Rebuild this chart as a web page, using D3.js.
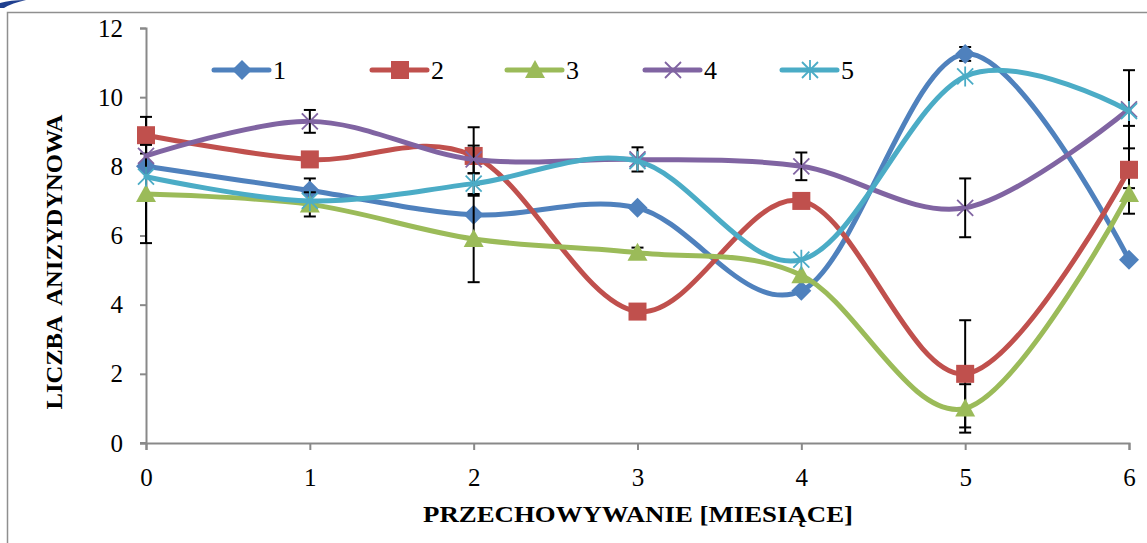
<!DOCTYPE html>
<html>
<head>
<meta charset="utf-8">
<script src="https://cdn.jsdelivr.net/npm/d3@7"></script>
<style>
  body { margin: 0; background: #fff; }
  svg { display: block; }
  text { font-family: "Liberation Serif", "Times New Roman", serif; fill: #000; }
</style>
</head>
<body>
<svg id="chart" width="1147" height="543"></svg>
<script>
// months of storage
const months = [0, 1, 2, 3, 4, 5, 6];
const seriesNames = ['1', '2', '3', '4', '5'];
const seriesColors = ['#4F81BD', '#C0504D', '#9BBB59', '#8064A2', '#4BACC6'];
const seriesMarkers = ['diamond', 'square', 'triangle', 'cross', 'star'];

const values1 = [8.0, 7.3, 6.6, 6.8, 4.4, 11.25, 5.3];
const values2 = [8.9, 8.2, 8.3, 3.8, 7.0, 2.0, 7.9];
const values3 = [7.2, 6.9, 5.9, 5.5, 4.85, 1.0, 7.2];
const values4 = [8.3, 9.3, 8.2, 8.2, 8.0, 6.8, 9.65];
const values5 = [7.7, 7.0, 7.5, 8.15, 5.3, 10.6, 9.6];

// error bar half widths (0 = none visible)
const errors1 = [0, 0.35, 0, 0, 0, 0.2, 0];
const errors2 = [0.53, 0, 0.83, 0, 0, 1.55, 1.27];
const errors3 = [1.42, 0.35, 1.25, 0.15, 0, 0.7, 0.17];
const errors4 = [0, 0.33, 0.4, 0.35, 0.4, 0.85, 1.13];
const errors5 = [0, 0, 0.3, 0, 0, 0, 0];

const yTicks = [0, 2, 4, 6, 8, 10, 12];
const xTitle = 'PRZECHOWYWANIE [MIESIĄCE]';
const yTitle = 'LICZBA  ANIZYDYNOWA';

const allValues = [values1, values2, values3, values4, values5];
const allErrors = [errors1, errors2, errors3, errors4, errors5];

const svg = d3.select('#chart');
const x = d3.scaleLinear().domain([0, 6]).range([146, 1129]);
const y = d3.scaleLinear().domain([0, 12]).range([443, 28]);
const axisColor = '#898989';
const serif = '"Liberation Serif", "Times New Roman", serif';

// outer frame (continues past right/bottom edge)
svg.append('path')
    .attr('d', 'M7.5,543 V12.5 H1147')
    .attr('fill', 'none')
    .attr('stroke', '#8f8f8f')
    .attr('stroke-width', 1.5);
// little blue corner remnant
svg.append('path')
    .attr('d', 'M0,8 L0,3 Q10,0 26,0 Q12,3 4,8 Z')
    .attr('fill', '#1f3f8f');

// axes
const yAxis = svg.append('g')
    .attr('transform', `translate(${x(0)},0)`)
    .call(d3.axisLeft(y).tickValues(yTicks).tickSize(6).tickPadding(17).tickFormat(d3.format('d')));
const xAxis = svg.append('g')
    .attr('transform', `translate(0,${y(0)})`)
    .call(d3.axisBottom(x).tickValues(months).tickSize(7).tickPadding(18).tickFormat(d3.format('d')));
[xAxis, yAxis].forEach(ax => {
    ax.attr('font-family', serif).attr('font-size', 25);
    ax.select('.domain').attr('stroke', axisColor).attr('stroke-width', 2);
    ax.selectAll('.tick line').attr('stroke', axisColor).attr('stroke-width', 2);
    ax.selectAll('.tick text')
        .style('font-family', serif)
        .style('font-size', '25px')
        .attr('fill', '#000');
});
// Excel style: y axis extends a bit left at the bottom
svg.append('line')
    .attr('x1', x(0) - 6).attr('x2', x(0))
    .attr('y1', y(0)).attr('y2', y(0))
    .attr('stroke', axisColor).attr('stroke-width', 2);

// titles
svg.append('text')
    .attr('x', 638).attr('y', 522)
    .attr('text-anchor', 'middle')
    .attr('textLength', 430)
    .attr('lengthAdjust', 'spacingAndGlyphs')
    .style('font-size', '23px')
    .style('font-weight', 'bold')
    .text(xTitle);
svg.append('text')
    .attr('transform', 'translate(62,262) rotate(-90)')
    .attr('text-anchor', 'middle')
    .attr('textLength', 295)
    .attr('lengthAdjust', 'spacingAndGlyphs')
    .style('font-size', '24px')
    .style('font-weight', 'bold')
    .style('white-space', 'pre')
    .text(yTitle);

// markers
function drawMarker(g, type, color, cx, cy) {
    if (type === 'diamond') {
        g.append('path').attr('d', `M${cx},${cy - 10} L${cx + 10},${cy} L${cx},${cy + 10} L${cx - 10},${cy} Z`)
            .attr('fill', color);
    } else if (type === 'square') {
        g.append('rect').attr('x', cx - 9).attr('y', cy - 9).attr('width', 18).attr('height', 18)
            .attr('fill', color);
    } else if (type === 'triangle') {
        g.append('path').attr('d', `M${cx},${cy - 10} L${cx + 10},${cy + 8} L${cx - 10},${cy + 8} Z`)
            .attr('fill', color);
    } else if (type === 'cross') {
        g.append('path').attr('d', `M${cx - 8},${cy - 8} L${cx + 8},${cy + 8} M${cx - 8},${cy + 8} L${cx + 8},${cy - 8}`)
            .attr('stroke', color).attr('stroke-width', 1.8);
    } else if (type === 'star') {
        g.append('path').attr('d', `M${cx - 8},${cy - 8} L${cx + 8},${cy + 8} M${cx - 8},${cy + 8} L${cx + 8},${cy - 8} M${cx},${cy - 10} L${cx},${cy + 10}`)
            .attr('stroke', color).attr('stroke-width', 1.8);
    }
}

const line = d3.line()
    .x((d, i) => x(months[i]))
    .y(d => y(d))
    .curve(d3.curveCardinal.tension(0));

const plot = svg.append('g');
allValues.forEach((vals, s) => {
    const g = plot.append('g');
    g.append('path')
        .datum(vals)
        .attr('d', line)
        .attr('fill', 'none')
        .attr('stroke', seriesColors[s])
        .attr('stroke-width', 5)
        .attr('stroke-linecap', 'round');
    const errs = allErrors[s];
    vals.forEach((v, i) => {
        if (!errs[i]) return;
        const cx = x(months[i]);
        const eb = g.append('g').attr('stroke', '#000').attr('stroke-width', 2);
        eb.append('line').attr('x1', cx).attr('x2', cx).attr('y1', y(v - errs[i])).attr('y2', y(v + errs[i]));
        [v - errs[i], v + errs[i]].forEach(e => {
            eb.append('line').attr('x1', cx - 6).attr('x2', cx + 6).attr('y1', y(e)).attr('y2', y(e));
        });
    });
    vals.forEach((v, i) => drawMarker(g, seriesMarkers[s], seriesColors[s], x(months[i]), y(v)));
});

// legend
const legendStarts = [214, 372, 507, 645, 782];
const legendY = 70;
seriesNames.forEach((name, s) => {
    const g = svg.append('g');
    const x0 = legendStarts[s];
    g.append('line')
        .attr('x1', x0).attr('x2', x0 + 55)
        .attr('y1', legendY).attr('y2', legendY)
        .attr('stroke', seriesColors[s]).attr('stroke-width', 5)
        .attr('stroke-linecap', 'round');
    drawMarker(g, seriesMarkers[s], seriesColors[s], x0 + 28, legendY);
    g.append('text')
        .attr('x', x0 + 59).attr('y', legendY + 9)
        .style('font-size', '26px')
        .text(name);
});
</script>
</body>
</html>
